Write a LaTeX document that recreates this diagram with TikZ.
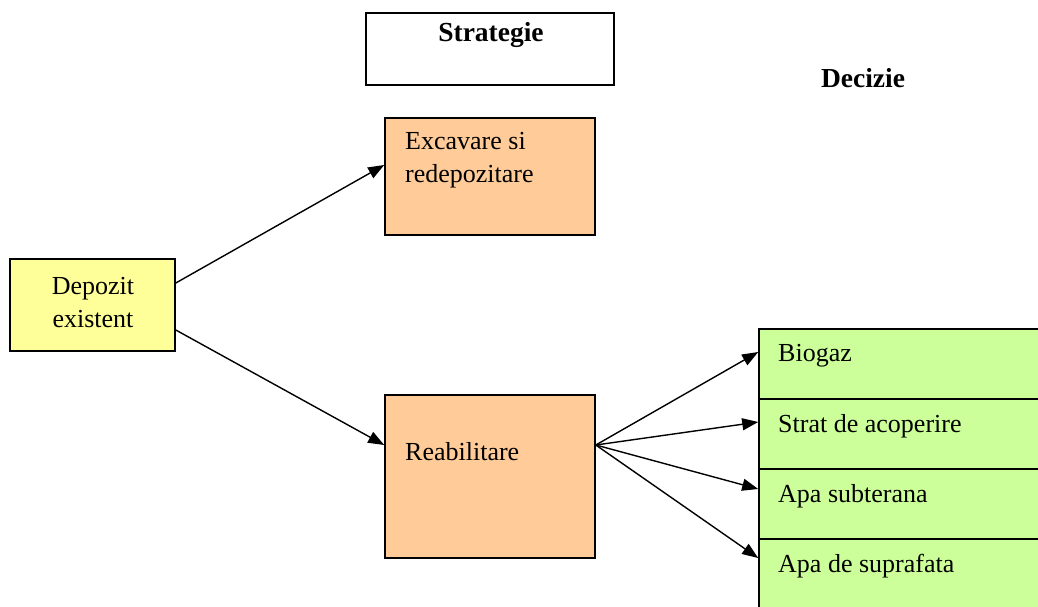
\documentclass[tikz,border=0pt]{standalone}
\usepackage{fontspec}
\setmainfont{Liberation Serif}
\usetikzlibrary{arrows.meta}
\definecolor{yel}{HTML}{FFFF99}
\definecolor{ora}{HTML}{FFCC99}
\definecolor{grn}{HTML}{CCFF99}
\tikzset{
  box/.style={draw=black, line width=1.6pt, inner sep=0pt},
  txt/.style={font=\fontsize{26}{33}\selectfont, inner sep=0pt},
  btxt/.style={font=\fontsize{27.5}{33}\selectfont\bfseries, inner sep=0pt},
  conn/.style={line width=1.4pt, -{Triangle[length=16pt,width=12pt]}},
}
\begin{document}
\begin{tikzpicture}[x=1pt,y=-1pt]
\useasboundingbox (0,0) rectangle (1038,607);
\fill[white] (0,0) rectangle (1038,607);
% Strategie
\node[box, minimum width=248, minimum height=72] (strat) at (490,49) {};
\node[btxt] (strattxt) at (491,35) {Strategie};
\node[btxt] (decizie) at (863,78) {Decizie};
% Depozit
\node[box, fill=yel, minimum width=165, minimum height=92] (dep) at (92.5,305) {};
\node[txt, align=center] (deptxt) at (93,303) {Depozit\\existent};
% Excavare
\node[box, fill=ora, minimum width=210, minimum height=117] (exc) at (490,176.5) {};
\node[txt, align=left, anchor=north west] (exctxt) at (405,132) {Excavare si\\redepozitare};
% Reabilitare
\node[box, fill=ora, minimum width=210, minimum height=163] (rea) at (490,476.5) {};
\node[txt, anchor=west] (reatxt) at (405,452) {Reabilitare};
% Decision boxes
\node[box, fill=grn, minimum width=300, minimum height=70] (bio) at (909,364) {};
\node[box, fill=grn, minimum width=300, minimum height=70] (str) at (909,434) {};
\node[box, fill=grn, minimum width=300, minimum height=70] (aps) at (909,504) {};
\node[box, fill=grn, minimum width=300, minimum height=70] (apf) at (909,574) {};
\node[txt, anchor=west] (biotxt) at (778,356) {Biogaz};
\node[txt, anchor=west] (strtxt) at (778,426) {Strat de acoperire};
\node[txt, anchor=west] (apstxt) at (778,496) {Apa subterana};
\node[txt, anchor=west] (apftxt) at (778,566) {Apa de suprafata};
% connectors
\coordinate (d1) at (dep.east |- 0,283);
\coordinate (d2) at (dep.east |- 0,330);
\coordinate (r0) at (rea.east |- 0,445);
\draw[conn] (d1) -- (exc.west |- 0,165);
\draw[conn] (d2) -- (rea.west |- 0,445);
\draw[conn] (r0) -- (bio.west |- 0,352);
\draw[conn] (r0) -- (str.west |- 0,422);
\draw[conn] (r0) -- (aps.west |- 0,489);
\draw[conn] (r0) -- (apf.west |- 0,558);
\end{tikzpicture}
\end{document}
